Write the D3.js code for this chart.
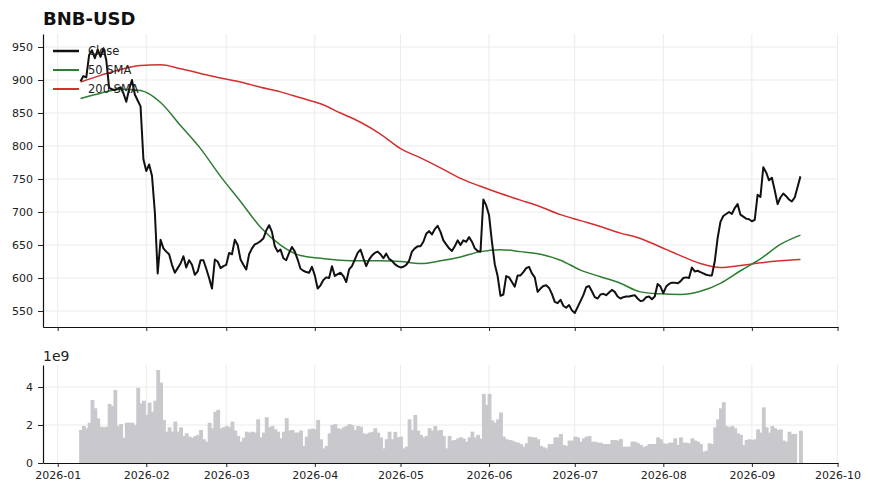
<!DOCTYPE html>
<meta charset="utf-8" />
<script src="https://cdn.jsdelivr.net/npm/d3@7"></script>
<style>
  body { margin: 0; background: #fff; }
  text { font-family: "DejaVu Sans", sans-serif; }
</style>
<div id="chart"></div>
<script>
  // daily data, first day 2026-01-09
  const startDay = "2026-01-09";

  const closeVals = [
    898, 906, 904, 938, 945, 933, 946, 935, 948, 930,
    888, 886, 885, 887, 889, 880, 867, 886, 900, 878,
    869, 860, 780, 762, 772, 755, 700, 607, 658, 645,
    640, 636, 620, 608, 615, 622, 633, 616, 627, 620,
    605, 610, 627, 627, 614, 600, 584, 628, 625, 615,
    618, 620, 638, 636, 658, 650, 628, 620, 613, 636,
    645, 651, 653, 656, 660, 672, 680, 670, 648, 640,
    643, 630, 627, 638, 647, 640, 628, 614, 611, 609,
    608, 617, 604, 584, 589, 597, 601, 600, 618, 603,
    606, 608, 603, 594, 613, 618, 628, 638, 643, 630,
    618, 628, 634, 638, 640, 636, 630, 637, 629, 626,
    621, 618, 616, 617, 620, 626, 640, 645, 648, 648,
    655, 667, 671, 666, 674, 679, 670, 657, 651, 645,
    641, 648, 657, 650, 657, 655, 662, 655, 645, 641,
    640, 719, 710, 695, 655, 621, 603, 573, 575, 603,
    601, 594, 587, 604, 604, 609, 615, 617, 607, 601,
    579, 584, 588, 589, 585, 576, 564, 562, 567, 558,
    555, 559, 551, 547, 556, 565, 574, 586, 588, 580,
    571, 569, 575, 576, 574, 578, 582, 579, 572, 569,
    571, 572, 572, 573, 574, 569, 565, 566, 571, 572,
    568, 572, 591, 587, 577, 587, 591, 593, 593, 592,
    595, 600, 601, 600, 616, 610, 611, 609, 607, 605,
    604, 604, 625, 660, 685, 694, 697, 700, 697, 706,
    712, 696, 693, 690, 689, 686, 688, 726, 723, 768,
    760, 748, 752, 733, 712, 722, 728, 724, 719, 716,
    722, 738, 754
  ];

  // volume in units of 1e9
  const volumeVals = [
    1.74, 1.95, 1.83, 2.12, 3.32, 2.88, 2.35, 1.91, 1.88, 1.91,
    3.11, 3.0, 3.84, 1.95, 2.05, 1.33, 2.12, 2.12, 2.12, 2.0,
    3.96, 3.14, 3.28, 2.53, 3.18, 2.7, 3.28, 4.9, 4.23, 2.27,
    1.65, 1.88, 1.65, 2.18, 1.65, 1.88, 1.42, 1.56, 1.39, 1.33,
    1.42, 1.48, 1.74, 1.25, 1.12, 2.12, 1.83, 2.7, 2.8, 1.83,
    1.88, 1.95, 1.88, 2.18, 1.71, 1.42, 1.12, 1.33, 1.65, 1.6,
    1.65, 1.6, 2.3, 1.35, 1.6, 2.41, 1.88, 1.95, 1.78, 1.65,
    1.3, 1.65, 2.36, 1.71, 1.74, 1.6, 1.6, 1.71, 0.9, 1.39,
    1.78, 1.81, 1.78, 2.27, 1.25, 0.77, 0.9, 1.56, 2.0, 2.05,
    1.83, 1.78, 1.88, 1.95, 2.05, 2.0, 1.74, 1.95, 1.91, 1.56,
    1.53, 1.6, 1.64, 1.83, 1.6, 1.35, 0.77, 1.25, 1.65, 1.25,
    1.64, 1.35, 1.39, 0.77, 0.86, 2.3, 1.74, 2.53, 1.71, 1.48,
    1.35, 1.42, 1.83, 1.71, 1.95, 1.71, 1.74, 1.42, 0.77, 1.42,
    1.18, 1.21, 1.3, 1.35, 1.28, 1.12, 1.35, 1.65, 1.35, 1.48,
    1.28, 3.64, 3.06, 3.64, 2.24, 2.12, 2.3, 2.66, 1.39, 1.25,
    1.21, 1.18, 1.11, 1.07, 1.0, 0.86, 1.04, 1.39, 1.35, 1.35,
    1.25, 0.9, 0.83, 0.77, 1.0, 1.0, 1.35, 1.35, 1.53, 0.95,
    0.9, 1.18, 1.18, 1.39, 1.35, 1.12, 1.3, 1.39, 1.42, 1.12,
    1.12, 1.07, 1.07, 1.0, 1.0, 1.0, 1.21, 1.21, 1.18, 1.26,
    0.86, 0.86, 0.86, 1.12, 1.12, 1.04, 0.95, 0.83, 0.9, 1.0,
    1.0, 1.0, 1.35, 1.25, 1.04, 1.0, 1.07, 1.07, 1.3, 0.95,
    1.35, 1.07, 1.07, 1.04, 1.3, 1.18, 1.12, 1.0, 0.6, 0.65,
    1.04, 1.0, 1.88, 2.3, 2.88, 3.2, 1.95, 1.88, 1.95, 1.83,
    1.56, 1.48, 0.95, 1.21, 1.25, 1.21, 1.25, 1.77, 1.6, 2.93,
    1.88, 1.6, 1.95, 1.83, 1.74, 1.77, 1.18, 1.12, 1.65, 1.53,
    1.53, 0, 1.7
  ];

  // moving averages, read weekly (every 7th day from startDay)
  const sma50Vals = [
    872, 880, 886, 884, 866, 831, 796, 754, 716, 677,
    650, 634, 630, 627, 626, 626, 625, 622, 626, 632,
    640, 643, 640, 636, 627, 612, 602, 592, 579, 576,
    575, 580, 592, 611, 629, 651, 665
  ];
  const sma200Vals = [
    897, 907, 916, 922, 923, 917, 910, 903, 897, 889,
    882, 873, 864, 850, 836, 818, 796, 782, 767, 751,
    739, 728, 718, 708, 696, 687, 678, 668, 660, 647,
    634, 622, 616, 619, 623, 626, 628
  ];

  const priceTicks = [550, 600, 650, 700, 750, 800, 850, 900, 950];
  const volumeTicks = [0, 2, 4];

  const W = 871, H = 495;
  const left = 43, right = 838;
  const top1 = 34, bot1 = 327;
  const top2 = 365, bot2 = 463;

  const t0 = d3.utcParse("%Y-%m-%d")(startDay);
  const days = closeVals.map((c, i) => ({
    date: d3.utcDay.offset(t0, i),
    close: c,
    vol: volumeVals[i],
  }));
  const weekly = sma50Vals.map((v, k) => ({
    date: d3.utcDay.offset(t0, 7 * k),
    s50: v,
    s200: sma200Vals[k],
  }));

  const jan1 = d3.utcParse("%Y-%m-%d")("2026-01-01");
  const dayMs = 864e5;
  const x = d3
    .scaleUtc()
    .domain([new Date(+jan1 - 5.15 * dayMs), new Date(+jan1 + 273.15 * dayMs)])
    .range([left, right]);
  const y = d3.scaleLinear().domain([525.8, 969.7]).range([bot1, top1]);
  const yv = d3.scaleLinear().domain([0, 5.16]).range([bot2, top2]);

  const svg = d3
    .select("#chart")
    .append("svg")
    .attr("width", W)
    .attr("height", H);

  const months = d3.utcMonth.range(
    d3.utcParse("%Y-%m-%d")("2026-01-01"),
    d3.utcParse("%Y-%m-%d")("2026-10-02")
  );
  const gridColor = "#ebebeb";

  // grids
  function grid(yScale, ticks, y0, y1) {
    const g = svg.append("g");
    g.selectAll(".v")
      .data(months)
      .join("line")
      .attr("x1", (d) => x(d))
      .attr("x2", (d) => x(d))
      .attr("y1", y0)
      .attr("y2", y1)
      .attr("stroke", gridColor);
    g.selectAll(".h")
      .data(ticks)
      .join("line")
      .attr("x1", left)
      .attr("x2", right)
      .attr("y1", (d) => yScale(d))
      .attr("y2", (d) => yScale(d))
      .attr("stroke", gridColor);
  }
  grid(y, priceTicks, top1, bot1);
  grid(yv, volumeTicks.slice(1), top2, bot2);

  // volume bars (overlap a little so they read as one solid block like the original)
  const bw = x(d3.utcDay.offset(t0, 1)) - x(t0);
  svg
    .append("g")
    .selectAll("rect")
    .data(days.filter((d) => d.vol > 0))
    .join("rect")
    .attr("x", (d) => x(d.date) - bw / 2)
    .attr("width", bw + 1)
    .attr("y", (d) => yv(d.vol))
    .attr("height", (d) => yv(0) - yv(d.vol))
    .attr("fill", "#c9c8cd");

  // lines
  const c50 = "#2e7d32", c200 = "#d32f2f", cClose = "#111111";
  svg
    .append("path")
    .datum(weekly)
    .attr("fill", "none")
    .attr("stroke", c200)
    .attr("stroke-width", 1.5)
    .attr("d", d3.line().curve(d3.curveMonotoneX).x((d) => x(d.date)).y((d) => y(d.s200)));
  svg
    .append("path")
    .datum(weekly)
    .attr("fill", "none")
    .attr("stroke", c50)
    .attr("stroke-width", 1.5)
    .attr("d", d3.line().curve(d3.curveMonotoneX).x((d) => x(d.date)).y((d) => y(d.s50)));
  svg
    .append("path")
    .datum(days)
    .attr("fill", "none")
    .attr("stroke", cClose)
    .attr("stroke-width", 2)
    .attr("stroke-linejoin", "round")
    .attr("d", d3.line().x((d) => x(d.date)).y((d) => y(d.close)));

  // axes
  function styleAxis(g) {
    g.selectAll("text").style("font-size", "11px").attr("fill", "#222");
    g.selectAll("line").attr("stroke", "#222");
    g.select(".domain").attr("stroke", "#111").attr("stroke-width", 1.2);
  }
  svg
    .append("g")
    .attr("transform", `translate(${left},0)`)
    .call(d3.axisLeft(y).tickValues(priceTicks).tickSize(5).tickPadding(5).tickSizeOuter(0))
    .call(styleAxis);
  svg
    .append("g")
    .attr("transform", `translate(0,${bot1})`)
    .call(d3.axisBottom(x).tickValues(months).tickFormat("").tickSize(4).tickSizeOuter(0))
    .call(styleAxis);
  svg
    .append("g")
    .attr("transform", `translate(${left},0)`)
    .call(d3.axisLeft(yv).tickValues(volumeTicks).tickFormat(d3.format("d")).tickSize(5).tickPadding(5).tickSizeOuter(0))
    .call(styleAxis);
  svg
    .append("g")
    .attr("transform", `translate(0,${bot2})`)
    .call(
      d3.axisBottom(x).tickValues(months).tickFormat(d3.utcFormat("%Y-%m")).tickSize(4).tickPadding(4).tickSizeOuter(0)
    )
    .call(styleAxis);

  // offset label for volume
  svg
    .append("text")
    .attr("x", left)
    .attr("y", 361)
    .style("font-size", "14px")
    .attr("fill", "#222")
    .text("1e9");

  // title
  svg
    .append("text")
    .attr("x", left)
    .attr("y", 25)
    .style("font-size", "18px")
    .style("font-weight", "bold")
    .attr("fill", "#111")
    .text("BNB-USD");

  // legend
  const legend = [
    { name: "Close", color: cClose, w: 2 },
    { name: "50 SMA", color: c50, w: 1.5 },
    { name: "200 SMA", color: c200, w: 1.5 },
  ];
  const lg = svg.append("g");
  legend.forEach((d, i) => {
    const ly = 51 + i * 19;
    lg.append("line")
      .attr("x1", 53)
      .attr("x2", 79)
      .attr("y1", ly)
      .attr("y2", ly)
      .attr("stroke", d.color)
      .attr("stroke-width", d.w + 0.5);
    lg.append("text")
      .attr("x", 88)
      .attr("y", ly + 4)
      .style("font-size", "11.5px")
      .attr("fill", "#222")
      .text(d.name);
  });
</script>
